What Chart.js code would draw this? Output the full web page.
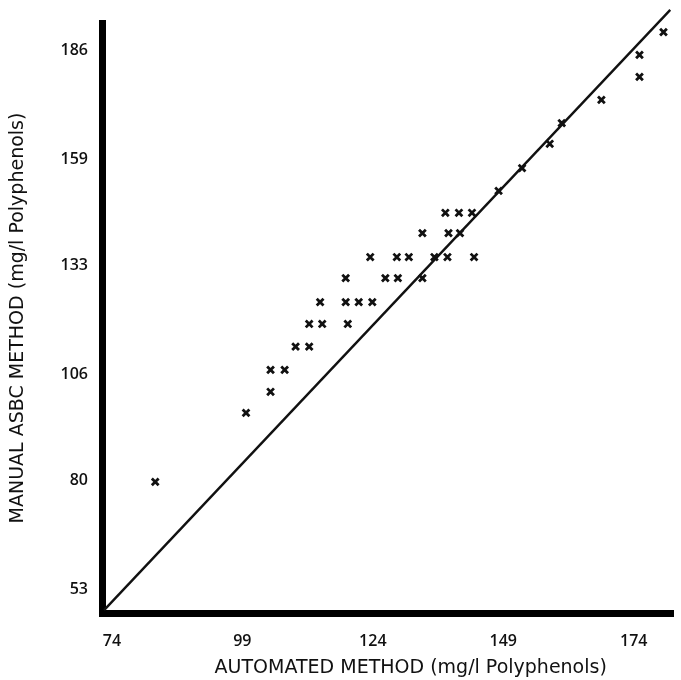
<!DOCTYPE html>
<html>
<head>
<meta charset="utf-8">
<script src="https://cdn.jsdelivr.net/npm/chart.js@4/dist/chart.umd.min.js"></script>
<style>
  body { margin: 0; background: #fff; }
  #wrap { width: 681px; height: 680px; }
</style>
</head>
<body>
<div id="wrap"><canvas id="myChart"></canvas></div>
<script>
// valori
const autoX = [82.3, 99.7, 104.4, 104.4, 107.1, 109.2, 111.8, 111.8, 114.3, 119.2,
    113.9, 118.8, 121.3, 123.9, 118.8, 126.4, 128.8, 133.5, 123.5, 128.6,
    130.9, 135.8, 138.3, 143.4, 133.5, 138.5, 140.7, 137.9, 140.5, 143.0,
    148.1, 152.6, 157.9, 160.2, 167.8, 175.1, 175.1, 179.7];
const manualY = [79.6, 96.6, 101.8, 107.2, 107.2, 112.9, 112.9, 118.5, 118.5, 118.5,
    123.9, 123.9, 123.9, 123.9, 129.8, 129.8, 129.8, 129.8, 135.0, 135.0,
    135.0, 135.0, 135.0, 135.0, 140.9, 140.9, 140.9, 145.9, 145.9, 145.9,
    151.3, 156.9, 162.9, 168.0, 173.7, 179.4, 184.8, 190.4];
const lineX = [72.5, 181.0];
const lineY = [48.0, 195.9];
const xTicks = [74, 99, 124, 149, 174];
const yTicks = [53, 80, 106, 133, 159, 186];
const xTitle = 'AUTOMATED METHOD (mg/l Polyphenols)';
const yTitle = 'MANUAL ASBC METHOD (mg/l Polyphenols)';

var punti = autoX.map((x, i) => ({ x: x, y: manualY[i] }));
var retta = lineX.map((x, i) => ({ x: x, y: lineY[i] }));

var tickFont = { family: 'Open Sans', size: 16, weight: '600' };
var titleFont = { family: 'DejaVu Sans', size: 19, weight: 'normal' };

// titolo asse x spostato a destra come nell'originale
var xTitlePlugin = {
    id: 'xTitlePlugin',
    afterDraw: function (chart) {
        var ctx = chart.ctx;
        var area = chart.chartArea;
        ctx.save();
        ctx.font = 'normal 19px "DejaVu Sans"';
        ctx.fillStyle = '#111';
        ctx.textAlign = 'center';
        ctx.textBaseline = 'middle';
        ctx.fillText(xTitle, (area.left + area.right) / 2 + 23, 668);
        ctx.restore();
    }
};

var ctx = document.getElementById('myChart').getContext('2d');
var myChart = new Chart(ctx, {
    type: 'scatter',
    data: {
        datasets: [{
            label: 'campioni',
            data: punti,
            pointStyle: 'crossRot',
            pointRadius: 4.8,
            borderColor: '#111',
            backgroundColor: '#111',
            borderWidth: 2.8
        }, {
            label: 'retta',
            data: retta,
            showLine: true,
            pointRadius: 0,
            borderColor: '#111',
            borderWidth: 2.4,
            clip: false
        }]
    },
    plugins: [xTitlePlugin],
    options: {
        responsive: true,
        maintainAspectRatio: false,
        animation: false,
        layout: { padding: { top: 23, right: 0, left: 0, bottom: 0 } },
        plugins: {
            legend: { display: false },
            tooltip: { enabled: false }
        },
        scales: {
            x: {
                type: 'linear',
                position: 'bottom',
                min: 72.1,
                max: 181.6,
                grid: { display: false },
                border: { display: true, color: '#000', width: 7 },
                afterBuildTicks: function (scale) {
                    scale.ticks = xTicks.map(v => ({ value: v }));
                },
                afterFit: function (scale) { scale.height = 67; },
                ticks: {
                    color: '#111',
                    font: tickFont,
                    padding: 11,
                    maxRotation: 0,
                    autoSkip: false
                }
            },
            y: {
                type: 'linear',
                min: 47.3,
                max: 192.65,
                grid: { display: false },
                border: { display: true, color: '#000', width: 7 },
                afterBuildTicks: function (scale) {
                    scale.ticks = yTicks.map(v => ({ value: v }));
                },
                afterFit: function (scale) { scale.width = 102; },
                ticks: {
                    color: '#111',
                    font: tickFont,
                    padding: 6,
                    autoSkip: false
                },
                title: {
                    display: true,
                    text: yTitle,
                    color: '#111',
                    font: titleFont,
                    padding: { top: 7, bottom: 0 }
                }
            }
        }
    }
});
</script>
</body>
</html>
